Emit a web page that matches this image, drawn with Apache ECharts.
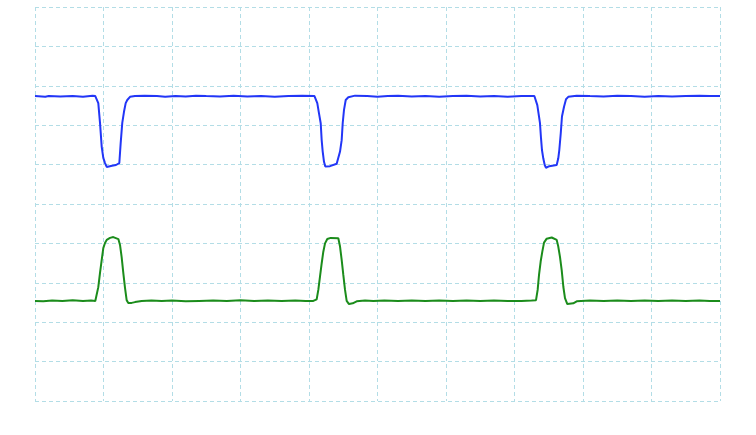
<!DOCTYPE html>
<html>
<head>
<meta charset="utf-8">
<title>scope trace</title>
<script src="https://cdn.jsdelivr.net/npm/echarts@6/dist/echarts.min.js"></script>
<style>
  html, body { margin: 0; padding: 0; background: #fff; }
  #main { width: 756px; height: 435px; }
</style>
</head>
<body>
<div id="main"></div>
<script>
// trace values, x in divisions (0..10), y in divisions (-5..5)
const blueTrace = [
  [0, 2.74], [0.15, 2.72], [0.2, 2.74], [0.37, 2.73], [0.55, 2.74], [0.7, 2.72], [0.84, 2.75], [0.88, 2.74],
  [0.901, 2.74], [0.924, 2.56], [0.949, 2.06], [0.974, 1.45], [0.997, 1.17], [1.022, 1.04], [1.047, 0.94],
  [1.07, 0.91], [1.124, 0.97], [1.182, 0.99], [1.231, 1.04], [1.251, 1.55], [1.274, 2.06], [1.299, 2.34],
  [1.324, 2.56], [1.347, 2.64], [1.387, 2.72], [1.46, 2.74],
  [1.6, 2.75], [1.78, 2.74], [1.9, 2.72], [2.05, 2.74], [2.2, 2.73], [2.35, 2.75], [2.5, 2.74], [2.7, 2.73],
  [2.9, 2.75], [3.1, 2.73], [3.3, 2.74], [3.5, 2.72], [3.7, 2.74], [3.9, 2.75], [4.08, 2.74],
  [4.102, 2.74], [4.121, 2.56], [4.146, 2.3], [4.171, 2.05], [4.185, 1.62], [4.2, 1.33], [4.219, 1.07],
  [4.238, 0.95], [4.258, 0.91], [4.307, 0.96], [4.404, 1.02], [4.428, 1.07], [4.453, 1.33], [4.477, 1.62],
  [4.492, 2.05], [4.511, 2.39], [4.536, 2.64], [4.574, 2.71], [4.672, 2.75],
  [4.85, 2.74], [5.0, 2.72], [5.15, 2.74], [5.3, 2.75], [5.5, 2.73], [5.7, 2.74], [5.9, 2.72], [6.1, 2.74],
  [6.3, 2.75], [6.5, 2.73], [6.7, 2.74], [6.9, 2.72], [7.1, 2.74], [7.29, 2.74],
  [7.314, 2.74], [7.333, 2.51], [7.358, 2.22], [7.372, 2.05], [7.387, 1.67], [7.401, 1.37], [7.42, 1.16],
  [7.441, 0.99], [7.46, 0.92], [7.508, 0.96], [7.616, 0.99], [7.639, 1.16], [7.654, 1.37], [7.675, 1.79],
  [7.693, 2.22], [7.723, 2.47], [7.752, 2.66], [7.785, 2.72], [7.908, 2.75],
  [8.1, 2.74], [8.3, 2.73], [8.5, 2.75], [8.7, 2.74], [8.9, 2.72], [9.1, 2.74], [9.3, 2.73], [9.5, 2.74],
  [9.7, 2.75], [9.85, 2.74], [10, 2.74]
];

const greenTrace = [
  [0, -2.46], [0.12, -2.47], [0.25, -2.45], [0.4, -2.46], [0.55, -2.44], [0.7, -2.46], [0.82, -2.45], [0.88, -2.46],
  [0.901, -2.44], [0.924, -2.11], [0.949, -1.75], [0.974, -1.42], [0.997, -1.12], [1.022, -0.99], [1.047, -0.91],
  [1.095, -0.86], [1.143, -0.84], [1.217, -0.89], [1.241, -1.04], [1.265, -1.35], [1.289, -1.75], [1.314, -2.13],
  [1.338, -2.44], [1.362, -2.51], [1.411, -2.51], [1.46, -2.49], [1.557, -2.46],
  [1.7, -2.45], [1.85, -2.46], [2.0, -2.45], [2.2, -2.47], [2.4, -2.46], [2.6, -2.45], [2.8, -2.46],
  [3.0, -2.44], [3.2, -2.46], [3.4, -2.45], [3.6, -2.46], [3.8, -2.45], [3.95, -2.46], [4.063, -2.46],
  [4.112, -2.42], [4.136, -2.18], [4.161, -1.84], [4.185, -1.51], [4.209, -1.21], [4.234, -1.0], [4.267, -0.89],
  [4.317, -0.86], [4.428, -0.87], [4.453, -1.08], [4.477, -1.42], [4.501, -1.8], [4.526, -2.18], [4.55, -2.46],
  [4.584, -2.54], [4.638, -2.52], [4.696, -2.47], [4.818, -2.45], [4.939, -2.46],
  [5.1, -2.45], [5.3, -2.46], [5.5, -2.45], [5.7, -2.46], [5.9, -2.45], [6.1, -2.46], [6.3, -2.45],
  [6.5, -2.46], [6.7, -2.45], [6.9, -2.46], [7.1, -2.46], [7.25, -2.45],
  [7.314, -2.44], [7.338, -2.18], [7.358, -1.8], [7.382, -1.46], [7.406, -1.21], [7.431, -0.98], [7.47, -0.88],
  [7.543, -0.85], [7.616, -0.91], [7.639, -1.08], [7.664, -1.34], [7.689, -1.68], [7.713, -2.1], [7.737, -2.39],
  [7.771, -2.54], [7.858, -2.52], [7.908, -2.47], [8.102, -2.45],
  [8.3, -2.46], [8.5, -2.45], [8.7, -2.46], [8.9, -2.45], [9.1, -2.46], [9.3, -2.45], [9.5, -2.46],
  [9.7, -2.45], [9.85, -2.46], [10, -2.46]
];

const xRange = [0, 10];
const yRange = [-5, 5];

const chart = echarts.init(document.getElementById('main'));

const gridLine = {
  show: true,
  lineStyle: { color: '#b3dde6', width: 1, type: [4, 3] }
};

chart.setOption({
  backgroundColor: '#ffffff',
  animation: false,
  grid: { left: 35, top: 7, right: 36, bottom: 34 },
  xAxis: {
    type: 'value',
    min: xRange[0],
    max: xRange[1],
    interval: 1,
    axisLine: { show: false },
    axisTick: { show: false },
    axisLabel: { show: false },
    splitLine: gridLine
  },
  yAxis: {
    type: 'value',
    min: yRange[0],
    max: yRange[1],
    interval: 1,
    axisLine: { show: false },
    axisTick: { show: false },
    axisLabel: { show: false },
    splitLine: gridLine
  },
  series: [
    {
      name: 'CH1',
      type: 'line',
      data: blueTrace,
      showSymbol: false,
      lineStyle: { color: '#2236f7', width: 2 }
    },
    {
      name: 'CH2',
      type: 'line',
      data: greenTrace,
      showSymbol: false,
      lineStyle: { color: '#1b8c1b', width: 2 }
    }
  ]
});
</script>
</body>
</html>
